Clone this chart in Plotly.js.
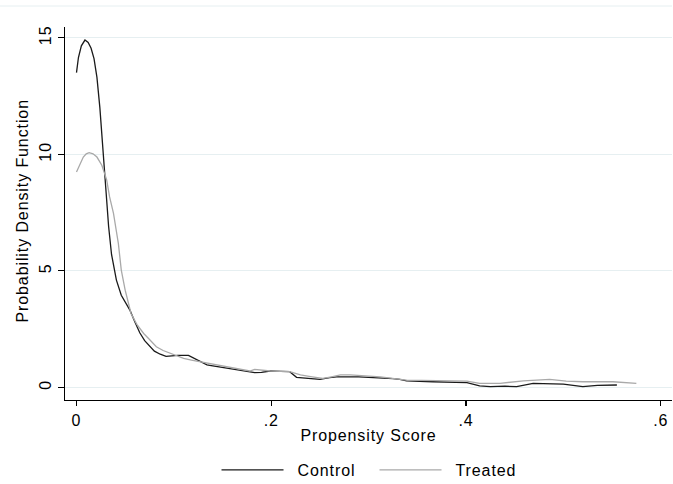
<!DOCTYPE html>
<html>
<head>
<meta charset="utf-8">
<script src="https://cdn.plot.ly/plotly-3.0.1.min.js"></script>
<style>
html,body{margin:0;padding:0;background:#fff;}
#chart text{letter-spacing:0.9px;}
#chart .legendtext{transform:translate(9px,0px);}
</style>
</head>
<body>
<div id="chart" style="width:673px;height:484px;"></div>
<script>
// Propensity score grid and kernel densities
var controlX = [0.000,0.002,0.005,0.0087,0.012,0.015,0.018,0.021,0.024,0.026,0.0285,0.030,0.033,0.036,0.041,0.046,0.051,0.055,0.060,0.065,0.070,0.075,0.080,0.086,0.092,0.098,0.104,0.115,0.121,0.127,0.134,0.140,0.147,0.154,0.161,0.170,0.183,0.190,0.199,0.210,0.219,0.226,0.240,0.250,0.260,0.267,0.290,0.312,0.325,0.332,0.339,0.366,0.401,0.414,0.425,0.440,0.452,0.469,0.500,0.520,0.535,0.555];
var controlY = [13.5,14.15,14.65,14.9,14.8,14.55,14.1,13.3,12.0,10.9,9.5,8.5,6.9,5.7,4.6,3.95,3.55,3.3,2.8,2.34,2.0,1.75,1.55,1.42,1.33,1.35,1.37,1.37,1.25,1.11,0.96,0.92,0.87,0.82,0.76,0.70,0.63,0.64,0.70,0.68,0.67,0.43,0.37,0.34,0.42,0.45,0.45,0.41,0.37,0.34,0.28,0.24,0.20,0.06,0.03,0.05,0.03,0.17,0.14,0.03,0.08,0.10];

var treatedX = [0.000,0.0036,0.007,0.010,0.013,0.017,0.021,0.026,0.031,0.034,0.038,0.043,0.046,0.050,0.056,0.062,0.069,0.075,0.082,0.089,0.096,0.103,0.110,0.118,0.127,0.135,0.144,0.160,0.178,0.183,0.199,0.219,0.230,0.242,0.253,0.262,0.271,0.281,0.312,0.339,0.366,0.401,0.414,0.435,0.459,0.486,0.503,0.520,0.551,0.575];
var treatedY = [9.24,9.6,9.88,10.02,10.07,10.02,9.88,9.53,8.9,8.17,7.46,6.17,5.03,4.17,3.17,2.7,2.31,2.05,1.74,1.58,1.46,1.35,1.24,1.17,1.10,1.03,0.96,0.82,0.70,0.77,0.70,0.67,0.53,0.45,0.38,0.45,0.53,0.53,0.45,0.31,0.28,0.27,0.17,0.17,0.28,0.34,0.27,0.24,0.24,0.17];

var xTicks = [0, 0.2, 0.4, 0.6];
var xTickText = ['0', '.2', '.4', '.6'];
var yTicks = [0, 5, 10, 15];
var yTickText = ['0', '5', '10', '15'];

var FONT = 'Liberation Sans, Arial, sans-serif';

var traces = [
  {x: controlX, y: controlY, type: 'scatter', mode: 'lines', name: 'Control',
   line: {color: '#1a1a1a', width: 1.3}},
  {x: treatedX, y: treatedY, type: 'scatter', mode: 'lines', name: 'Treated',
   line: {color: '#a9a9a9', width: 1.3}}
];

var layout = {
  width: 673, height: 484,
  margin: {l: 65, r: 1, t: 27, b: 84, pad: 0, autoexpand: false},
  paper_bgcolor: '#fff', plot_bgcolor: '#fff',
  font: {family: FONT, size: 16, color: '#000'},
  showlegend: true,
  legend: {orientation: 'h', x: 0.5099, xanchor: 'center', y: -0.1877, yanchor: 'middle',
           font: {family: FONT, size: 16, color: '#000'}, itemwidth: 62,
           entrywidth: 81, entrywidthmode: 'pixels',
           bgcolor: 'rgba(0,0,0,0)'},
  xaxis: {range: [-0.0118, 0.6116], tickmode: 'array', tickvals: xTicks, ticktext: xTickText,
          ticks: 'outside', ticklen: 5, tickwidth: 1.3, tickcolor: '#000',
          showline: true, linecolor: '#000', linewidth: 1.3, showgrid: false, zeroline: false,
          tickfont: {family: FONT, size: 16, color: '#000'},
          title: {text: 'Propensity Score', font: {family: FONT, size: 16, color: '#000'}, standoff: 2}},
  yaxis: {range: [-0.544, 15.46], tickmode: 'array', tickvals: yTicks, ticktext: yTickText,
          tickangle: -90, ticks: 'outside', ticklen: 6, tickwidth: 1.3, tickcolor: '#000',
          showline: true, linecolor: '#000', linewidth: 1.3, showgrid: true,
          gridcolor: '#e6eff1', gridwidth: 1, zeroline: false,
          tickfont: {family: FONT, size: 16, color: '#000'}},
  annotations: [
    {text: 'Probability Density Function', xref: 'paper', yref: 'paper',
     x: -0.0692, y: 0.5068, xanchor: 'center', yanchor: 'middle', textangle: -90,
     showarrow: false, font: {family: FONT, size: 16, color: '#000'}}
  ],
  shapes: [
    {type: 'line', xref: 'paper', yref: 'paper', x0: -0.107, x1: 1.0, y0: 1.0563, y1: 1.0563,
     line: {color: '#e6eff1', width: 1}}
  ]
};

Plotly.newPlot('chart', traces, layout, {displayModeBar: false, staticPlot: true});
</script>
</body>
</html>
